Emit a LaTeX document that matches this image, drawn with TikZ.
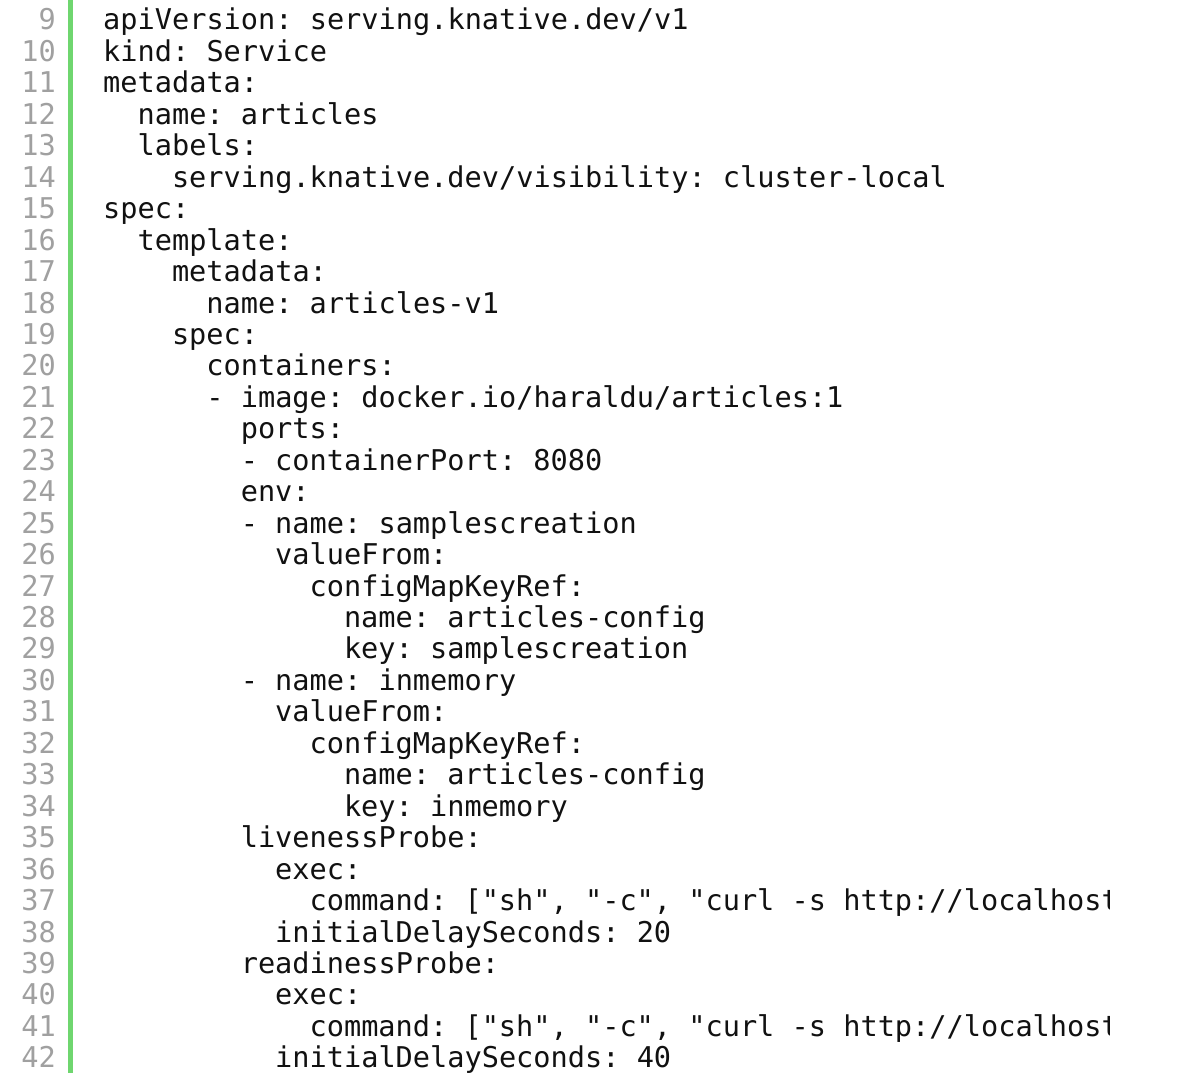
\documentclass[tikz,border=0pt]{standalone}
\usepackage{fontspec}
\setmonofont{DejaVu Sans Mono}
\definecolor{numgray}{HTML}{A0A0A0}
\definecolor{bargreen}{HTML}{6FD66F}
\definecolor{codeink}{HTML}{111111}
\begin{document}
\begin{tikzpicture}[x=1pt,y=1pt,
  code/.style={anchor=base west,inner sep=0pt,text=codeink,font=\fontsize{28.6}{30}\ttfamily},
  num/.style={anchor=base east,inner sep=0pt,text=numgray,font=\fontsize{28.6}{30}\ttfamily}]
\useasboundingbox (0,0) rectangle (1200,1073);
\fill[white] (0,0) rectangle (1200,1073);
\fill[bargreen] (68,0) rectangle (73,1073);
\foreach \n in {9,...,42}{
  \pgfmathsetmacro{\yy}{1073-30-31.45*(\n-9)}
  \node[num] (n\n) at (56,\yy) {\n};}
\newcommand{\cl}[3]{%
  \pgfmathsetmacro{\yy}{1073-30-31.45*(#1-9)}%
  \node[code] (c#1) at (103+17.2*#2,\yy) {#3};}
\begin{scope}
\clip (74,0) rectangle (1109,1073);
\cl{9}{0}{apiVersion: serving.knative.dev/v1}
\cl{10}{0}{kind: Service}
\cl{11}{0}{metadata:}
\cl{12}{2}{name: articles}
\cl{13}{2}{labels:}
\cl{14}{4}{serving.knative.dev/visibility: cluster-local}
\cl{15}{0}{spec:}
\cl{16}{2}{template:}
\cl{17}{4}{metadata:}
\cl{18}{6}{name: articles-v1}
\cl{19}{4}{spec:}
\cl{20}{6}{containers:}
\cl{21}{6}{- image: docker.io/haraldu/articles:1}
\cl{22}{8}{ports:}
\cl{23}{8}{- containerPort: 8080}
\cl{24}{8}{env:}
\cl{25}{8}{- name: samplescreation}
\cl{26}{10}{valueFrom:}
\cl{27}{12}{configMapKeyRef:}
\cl{28}{14}{name: articles-config}
\cl{29}{14}{key: samplescreation}
\cl{30}{8}{- name: inmemory}
\cl{31}{10}{valueFrom:}
\cl{32}{12}{configMapKeyRef:}
\cl{33}{14}{name: articles-config}
\cl{34}{14}{key: inmemory}
\cl{35}{8}{livenessProbe:}
\cl{36}{10}{exec:}
\cl{37}{12}{command: ["sh", "-c", "curl -s http://localhost:8080/"]}
\cl{38}{10}{initialDelaySeconds: 20}
\cl{39}{8}{readinessProbe:}
\cl{40}{10}{exec:}
\cl{41}{12}{command: ["sh", "-c", "curl -s http://localhost:8080/"]}
\cl{42}{10}{initialDelaySeconds: 40}
\end{scope}
\end{tikzpicture}
\end{document}
